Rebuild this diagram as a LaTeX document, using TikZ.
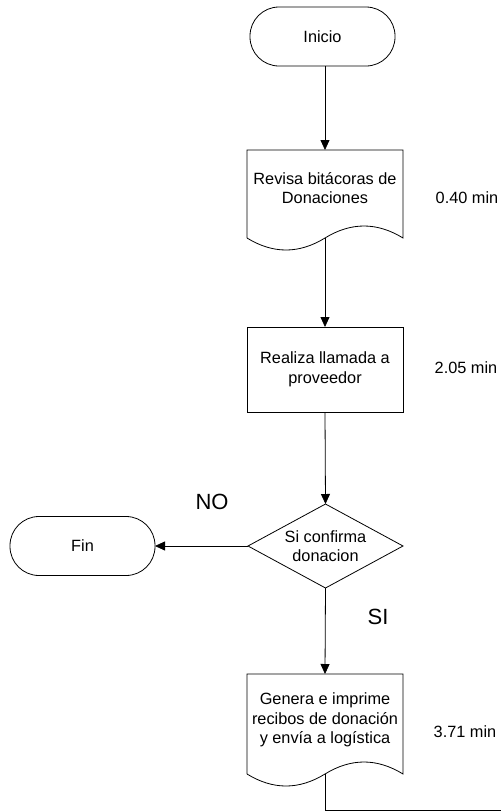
\documentclass[tikz,border=0pt]{standalone}
\usepackage{fontspec}
\setmainfont{Liberation Sans}
\usetikzlibrary{shapes.geometric,arrows.meta}

\begin{document}
\begin{tikzpicture}[x=1pt,y=-1pt,
  every node/.style={inner sep=0pt, outer sep=0pt},
  txt/.style={font=\fontsize{16.3}{19.5}\selectfont, align=center},
  big/.style={font=\fontsize{22}{26}\selectfont},
  terminal/.style={draw, line width=0.8pt, rectangle, rounded corners=29pt,
    minimum width=145pt, minimum height=59pt, txt},
  docbox/.style={rectangle, minimum width=156pt},
  process/.style={draw, line width=0.8pt, rectangle, minimum width=156pt,
    minimum height=85pt, txt},
  decision/.style={draw, line width=0.8pt, diamond, shape aspect=1.85,
    minimum width=155pt, minimum height=84pt, txt},
  outline/.style={line width=0.8pt},
  flow/.style={line width=0.8pt, -{Triangle[length=10pt,width=9pt]}},
  link/.style={line width=0.8pt}]

\useasboundingbox (0,0) rectangle (501,812);

% start
\node[terminal] (inicio) at (322.5,36.5) {Inicio};

% first document step: straight top and sides, wavy bottom
\node[docbox, minimum height=88pt] (d1) at (325,194) {};
\node[txt] (d1t) at (325,188) {Revisa bitácoras de\\Donaciones};
\draw[outline] (d1.south west) -- (d1.north west) -- (d1.north east) -- (d1.south east)
  .. controls (377,222) and (351,222) .. (d1.south)
  .. controls (299,254) and (273,254) .. (d1.south west);
\node[txt] (t1) at (467,198) {0.40 min};

% call step
\node[process] (p2) at (325,369.5) {Realiza llamada a\\proveedor};
\node[txt] (t2) at (466,368) {2.05 min};

% decision
\node[decision] (dec) at (325.5,546) {Si confirma\\donacion};
\node[big] (no) at (212,502) {NO};
\node[big] (si) at (378,617) {SI};

% end
\node[terminal] (fin) at (82.5,546) {Fin};

% second document step
\node[docbox, minimum height=100pt] (d2) at (325,724) {};
\node[txt] (d2t) at (325,720) {Genera e imprime\\recibos de donación\\y envía a logística};
\draw[outline] (d2.south west) -- (d2.north west) -- (d2.north east) -- (d2.south east)
  .. controls (377,758) and (351,758) .. (d2.south)
  .. controls (299,790) and (273,790) .. (d2.south west);
\node[txt] (t3) at (465,732) {3.71 min};

\coordinate (exit) at (501,810);

% connectors
\draw[flow] (inicio.south -| d1.north) -- (d1.north);
\draw[flow] (d1.south) -- (p2.north);
\draw[flow] (p2.south) -- (dec.north);
\draw[flow] (dec.west) -- (fin.east);
\draw[flow] (dec.south) -- (d2.north);
\draw[link] (d2.south) |- (exit);

\end{tikzpicture}
\end{document}
